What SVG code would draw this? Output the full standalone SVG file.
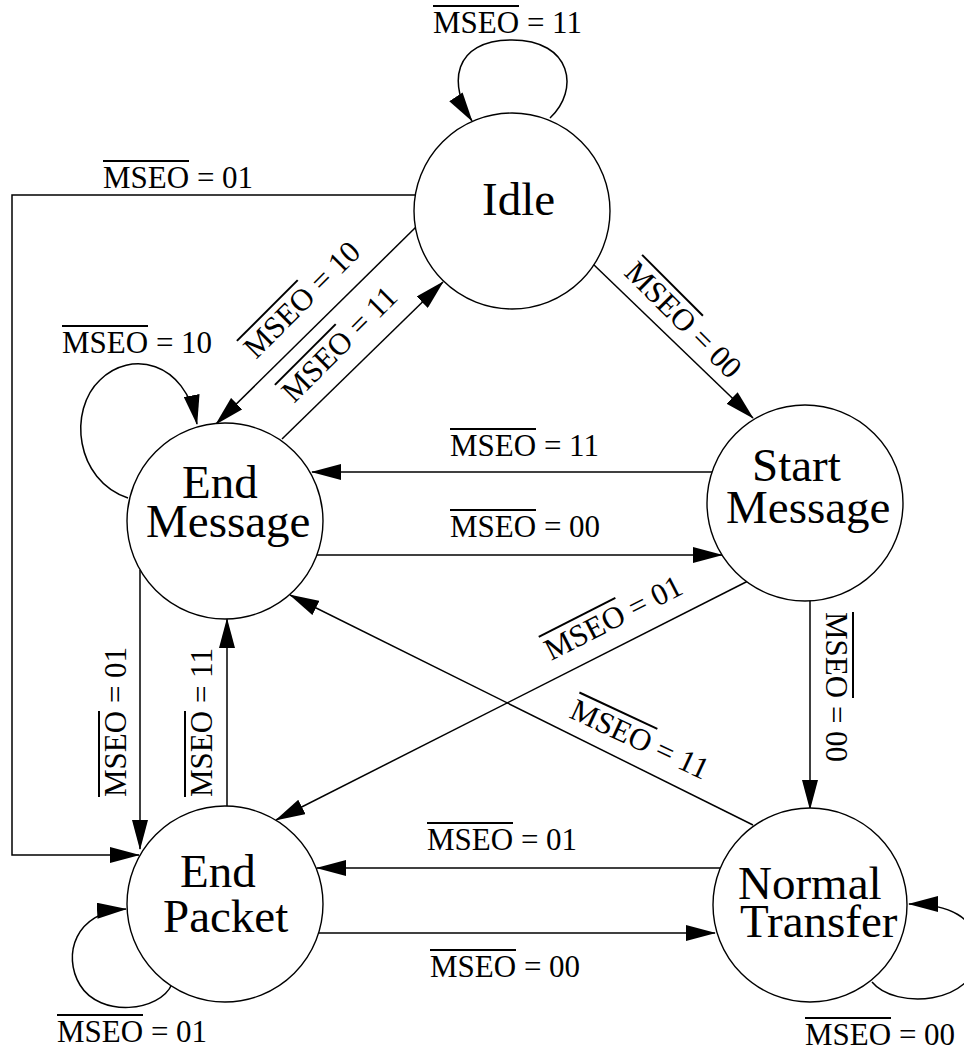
<svg xmlns="http://www.w3.org/2000/svg" width="964" height="1051" viewBox="0 0 964 1051">
<style>
.st{fill:#fff;stroke:#000;stroke-width:1.4}
.nt{font-family:"Liberation Serif","Times New Roman",serif;font-size:47px;fill:#000}
.lb{font-family:"Liberation Serif","Times New Roman",serif;font-size:31px;fill:#000}
.ov{stroke:#000;stroke-width:2}
.cn{fill:none;stroke:#000;stroke-width:1.5}
</style>
<defs>
<marker id="ah" markerUnits="userSpaceOnUse" markerWidth="30" markerHeight="16" refX="29" refY="8" orient="auto">
<path d="M0,0 L30,8 L0,16 z" fill="#000"/>
</marker>
</defs>
<rect width="964" height="1051" fill="#fff"/>
<g id="connectors">
<path class="cn" marker-end="url(#ah)" d="M550 118 C580 90,572 40,512 40 C452 40,448 85,472 121"/>
<path class="cn" marker-end="url(#ah)" d="M415 195 L12 195 L12 855 L139 855"/>
<path class="cn" marker-end="url(#ah)" d="M417 226 L216 424"/>
<path class="cn" marker-end="url(#ah)" d="M282 439 L443 282"/>
<path class="cn" marker-end="url(#ah)" d="M593 264 L753 418"/>
<path class="cn" marker-end="url(#ah)" d="M712 472 L312 472"/>
<path class="cn" marker-end="url(#ah)" d="M317 555 L722 555"/>
<path class="cn" marker-end="url(#ah)" d="M140 570 L140 849"/>
<path class="cn" marker-end="url(#ah)" d="M227 806 L227 619"/>
<path class="cn" marker-end="url(#ah)" d="M748 581 L276 820"/>
<path class="cn" marker-end="url(#ah)" d="M753 825 L290 595"/>
<path class="cn" marker-end="url(#ah)" d="M810 600 L810 809"/>
<path class="cn" marker-end="url(#ah)" d="M720 868 L317 868"/>
<path class="cn" marker-end="url(#ah)" d="M319 933 L715 933"/>
<path class="cn" marker-end="url(#ah)" d="M872 982 C895 1010,975 1005,978 955 C980 915,945 904,909 904"/>
<path class="cn" marker-end="url(#ah)" d="M172 984 C160 1012,100 1018,80 985 C62 955,75 912,126 909"/>
<path class="cn" marker-end="url(#ah)" d="M128 498 C75 480,68 410,100 380 C130 350,185 360,197 424"/>
</g>
<g id="idle">
<circle class="st" cx="512" cy="211" r="98"/>
<text class="nt" x="482" y="215">Idle</text>
</g>
<g id="end-message">
<circle class="st" cx="225" cy="521" r="98"/>
<text class="nt"><tspan x="182" y="498">End</tspan><tspan x="146" y="537">Message</tspan></text>
</g>
<g id="start-message">
<circle class="st" cx="805" cy="503" r="98"/>
<text class="nt"><tspan x="752" y="481">Start</tspan><tspan x="726" y="523">Message</tspan></text>
</g>
<g id="end-packet">
<circle class="st" cx="225" cy="904" r="98"/>
<text class="nt"><tspan x="180" y="887">End</tspan><tspan x="163" y="932">Packet</tspan></text>
</g>
<g id="normal-transfer">
<circle class="st" cx="810" cy="905" r="97"/>
<text class="nt"><tspan x="738" y="899">Normal</tspan><tspan x="740" y="937">Transfer</tspan></text>
</g>
<g id="labels">
<g transform="translate(433,33)"><text class="lb">MSEO = 11</text><line class="ov" x1="0" y1="-27" x2="86" y2="-27"/></g>
<g transform="translate(103,188)"><text class="lb">MSEO = 01</text><line class="ov" x1="0" y1="-27" x2="86" y2="-27"/></g>
<g transform="translate(256,360) rotate(-45)"><text class="lb">MSEO = 10</text><line class="ov" x1="0" y1="-27" x2="86" y2="-27"/></g>
<g transform="translate(294,404) rotate(-45)"><text class="lb">MSEO = 11</text><line class="ov" x1="0" y1="-27" x2="86" y2="-27"/></g>
<g transform="translate(623,274) rotate(45)"><text class="lb">MSEO = 00</text><line class="ov" x1="0" y1="-27" x2="86" y2="-27"/></g>
<g transform="translate(62,353)"><text class="lb">MSEO = 10</text><line class="ov" x1="0" y1="-27" x2="86" y2="-27"/></g>
<g transform="translate(450,456)"><text class="lb">MSEO = 11</text><line class="ov" x1="0" y1="-27" x2="86" y2="-27"/></g>
<g transform="translate(450,537)"><text class="lb">MSEO = 00</text><line class="ov" x1="0" y1="-27" x2="86" y2="-27"/></g>
<g transform="translate(126,797) rotate(-90)"><text class="lb">MSEO = 01</text><line class="ov" x1="0" y1="-27" x2="86" y2="-27"/></g>
<g transform="translate(212,797) rotate(-90)"><text class="lb">MSEO = 11</text><line class="ov" x1="0" y1="-27" x2="86" y2="-27"/></g>
<g transform="translate(551,661) rotate(-27)"><text class="lb">MSEO = 01</text><line class="ov" x1="0" y1="-27" x2="86" y2="-27"/></g>
<g transform="translate(568,717) rotate(25)"><text class="lb">MSEO = 11</text><line class="ov" x1="0" y1="-27" x2="86" y2="-27"/></g>
<g transform="translate(826,612) rotate(90)"><text class="lb">MSEO = 00</text><line class="ov" x1="0" y1="-27" x2="86" y2="-27"/></g>
<g transform="translate(427,850)"><text class="lb">MSEO = 01</text><line class="ov" x1="0" y1="-27" x2="86" y2="-27"/></g>
<g transform="translate(430,977)"><text class="lb">MSEO = 00</text><line class="ov" x1="0" y1="-27" x2="86" y2="-27"/></g>
<g transform="translate(57,1042)"><text class="lb">MSEO = 01</text><line class="ov" x1="0" y1="-27" x2="86" y2="-27"/></g>
<g transform="translate(805,1045)"><text class="lb">MSEO = 00</text><line class="ov" x1="0" y1="-27" x2="86" y2="-27"/></g>
</g>
</svg>
